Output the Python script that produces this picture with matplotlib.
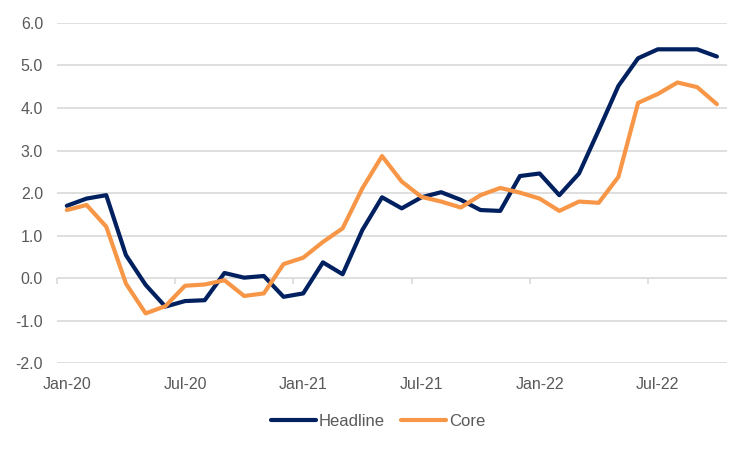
import matplotlib
matplotlib.use("Agg")
import matplotlib.pyplot as plt
import numpy as np

# monthly inflation, Jan-20 .. Oct-22
months = ["Jan-20", "Feb-20", "Mar-20", "Apr-20", "May-20", "Jun-20",
          "Jul-20", "Aug-20", "Sep-20", "Oct-20", "Nov-20", "Dec-20",
          "Jan-21", "Feb-21", "Mar-21", "Apr-21", "May-21", "Jun-21",
          "Jul-21", "Aug-21", "Sep-21", "Oct-21", "Nov-21", "Dec-21",
          "Jan-22", "Feb-22", "Mar-22", "Apr-22", "May-22", "Jun-22",
          "Jul-22", "Aug-22", "Sep-22", "Oct-22"]

headline = [1.70, 1.87, 1.95, 0.54, -0.16, -0.67, -0.54, -0.52, 0.12, 0.01,
            0.05, -0.44, -0.36, 0.37, 0.09, 1.13, 1.90, 1.64, 1.90, 2.02,
            1.84, 1.60, 1.58, 2.40, 2.46, 1.95, 2.46, 3.48, 4.52, 5.17,
            5.38, 5.38, 5.38, 5.21]

core = [1.60, 1.72, 1.21, -0.13, -0.83, -0.66, -0.18, -0.15, -0.05, -0.42,
        -0.36, 0.33, 0.48, 0.85, 1.17, 2.11, 2.87, 2.27, 1.91, 1.80,
        1.66, 1.95, 2.12, 2.01, 1.87, 1.58, 1.80, 1.77, 2.38, 4.12,
        4.33, 4.60, 4.49, 4.09]

yticks = [-2.0, -1.0, 0.0, 1.0, 2.0, 3.0, 4.0, 5.0, 6.0]

plt.rcParams["font.family"] = ["Liberation Sans", "DejaVu Sans"]
txt = "#595959"
grid = "#D9D9D9"

fig = plt.figure(figsize=(7.5, 4.5), dpi=100)
ax = fig.add_axes([0.076, 0.193, 0.893, 0.756])

x = np.arange(len(months))
ax.plot(x, headline, color="#002060", lw=3.0, label="Headline", solid_capstyle="round")
ax.plot(x, core, color="#F79646", lw=3.0, label="Core", solid_capstyle="round")

ax.set_xlim(-0.5, len(months) - 0.5)
ax.set_ylim(-2, 6)
ax.set_yticks(yticks)
ax.set_yticklabels([f"{v:.1f}" for v in yticks])
ax.yaxis.grid(True, color=grid, lw=1.2)
ax.set_axisbelow(True)
for s in ax.spines.values():
    s.set_visible(False)

ax.set_xticks(x[::6])
ax.set_xticklabels(months[::6])
ax.tick_params(axis="both", length=0, labelsize=11.5, colors=txt)
ax.tick_params(axis="y", pad=10)
ax.tick_params(axis="x", pad=10)

# small tick marks on the zero line between categories
sec = ax.secondary_xaxis(0.25)
sec.set_xticks(np.arange(-0.5, len(months), 6))
sec.set_xticklabels([])
sec.tick_params(length=4, color=grid, width=1.2)
sec.spines["bottom"].set_visible(False)

fig.legend(loc="center", bbox_to_anchor=(0.504, 0.064), ncol=2, frameon=False,
           fontsize=12, handlelength=2.7, handletextpad=0.15, columnspacing=1.0,
           labelcolor=txt)

fig.savefig("out.png", dpi=100)
